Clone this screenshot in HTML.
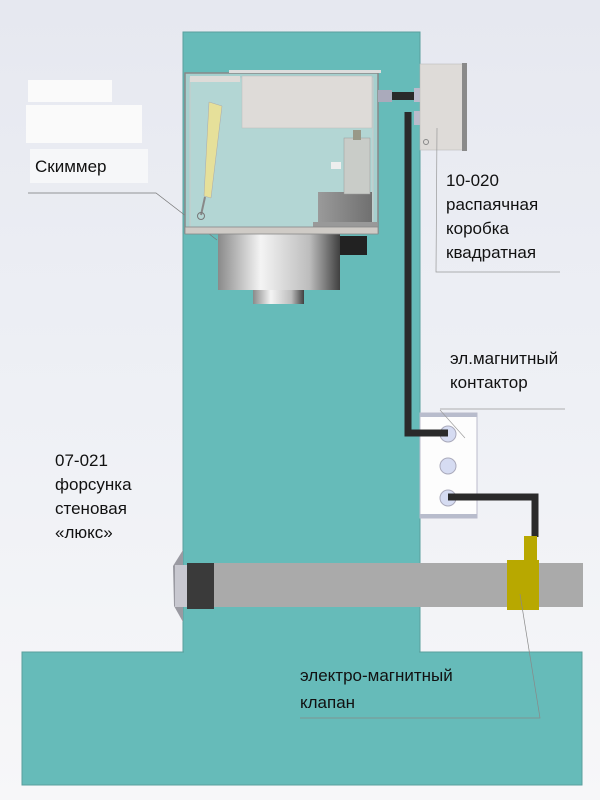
<!DOCTYPE html>
<html><head><meta charset="utf-8"><style>
html,body{margin:0;padding:0;}
body{width:600px;height:800px;overflow:hidden;background:linear-gradient(180deg,#e6e8f0 0%,#eef0f5 50%,#f7f7f9 100%);}
svg{display:block}
text{font-family:"Liberation Sans","DejaVu Sans",sans-serif;font-size:17px;fill:#111;}
</style></head><body>
<svg width="600" height="800" viewBox="0 0 600 800">
<defs>
<linearGradient id="cyl" x1="0" x2="1" y1="0" y2="0">
<stop offset="0" stop-color="#8a8a8a"/><stop offset="0.35" stop-color="#f4f4f4"/><stop offset="0.75" stop-color="#bdbdbd"/><stop offset="1" stop-color="#404040"/></linearGradient>
<linearGradient id="mot" x1="0" x2="1"><stop offset="0" stop-color="#9a9a9a"/><stop offset="1" stop-color="#707070"/></linearGradient>
</defs>
<rect x="183" y="32" width="237" height="620" fill="#66bbb9" stroke="#5a9f9d" stroke-width="1"/>
<rect x="22" y="652" width="560" height="133" fill="#66bbb9" stroke="#5a9f9d" stroke-width="1"/>
<rect x="184" y="640" width="235" height="14" fill="#66bbb9"/>
<rect x="28" y="80" width="84" height="22" fill="#fafafa"/>
<rect x="26" y="105" width="116" height="38" fill="#fafafa"/>
<rect x="30" y="149" width="118" height="34" fill="#f6f7f9"/>
<text x="35" y="172">Скиммер</text>
<polyline points="28,193 156,193 217,240" fill="none" stroke="#777" stroke-width="0.7"/>
<rect x="218" y="234" width="122" height="56" fill="url(#cyl)"/>
<rect x="253" y="290" width="51" height="14" fill="url(#cyl)"/>
<rect x="340" y="236" width="27" height="19" fill="#222"/>
<rect x="185" y="73" width="193" height="160" fill="#a6d0ce" stroke="#888" stroke-width="1.5"/>
<rect x="190" y="78" width="183" height="150" fill="#b3d6d4" stroke="#c9c9c9" stroke-width="1"/>
<rect x="229" y="70" width="152" height="3" fill="#ddd"/>
<rect x="242" y="76" width="130" height="52" fill="#dedbd8" stroke="#bbb" stroke-width="0.5"/>
<rect x="190" y="76" width="50" height="6" fill="#dedbd8"/>
<polygon points="209,102 222,106 211,198 204,196" fill="#e6e09a" stroke="#aaa" stroke-width="0.5"/>
<line x1="205" y1="197" x2="201" y2="215" stroke="#888" stroke-width="2"/>
<circle cx="201" cy="216" r="3.5" fill="none" stroke="#777"/>
<rect x="318" y="192" width="54" height="32" fill="url(#mot)"/>
<rect x="313" y="222" width="64" height="6" fill="#999"/>
<rect x="344" y="138" width="26" height="56" fill="#c9ccc8" stroke="#999" stroke-width="0.5"/>
<rect x="331" y="162" width="10" height="7" fill="#eee"/>
<rect x="353" y="130" width="8" height="10" fill="#998"/>
<rect x="185" y="227" width="193" height="7" fill="#cfcbc6" stroke="#888" stroke-width="0.8"/>
<rect x="378" y="90" width="14" height="12" fill="#aab" />
<rect x="392" y="92" width="24" height="8" fill="#2a2a2a"/>
<rect x="414" y="88" width="10" height="14" fill="#bbc"/>
<rect x="414" y="111" width="10" height="14" fill="#bbc"/>
<polyline points="408,112 408,433 448,433" fill="none" stroke="#2a2a2a" stroke-width="7"/>
<rect x="420" y="64" width="46" height="86" fill="#dedbd8" stroke="#bbb" stroke-width="0.6"/>
<rect x="462" y="63" width="5" height="88" fill="#8a8a8a"/>
<circle cx="426" cy="142" r="2.5" fill="none" stroke="#888"/>
<polyline points="437,128 436,272 560,272" fill="none" stroke="#999" stroke-width="0.7"/>
<text x="446" y="186">10-020</text>
<text x="446" y="210">распаячная</text>
<text x="446" y="234">коробка</text>
<text x="446" y="258">квадратная</text>
<text x="450" y="364">эл.магнитный</text>
<text x="450" y="388">контактор</text>
<line x1="440" y1="409" x2="565" y2="409" stroke="#999" stroke-width="0.7"/>
<rect x="420" y="413" width="57" height="105" fill="#fdfdfd" stroke="#bbc" stroke-width="1"/>
<rect x="420" y="413" width="57" height="4" fill="#b8bccc"/>
<rect x="420" y="514" width="57" height="4" fill="#b8bccc"/>
<line x1="440" y1="410" x2="465" y2="438" stroke="#999" stroke-width="0.6"/>
<circle cx="448" cy="434" r="8" fill="#d6dcf2" stroke="#aab"/>
<circle cx="448" cy="466" r="8" fill="#d6dcf2" stroke="#aab"/>
<circle cx="448" cy="498" r="8" fill="#d6dcf2" stroke="#aab"/>
<polyline points="408,433 448,433" fill="none" stroke="#2a2a2a" stroke-width="7"/>
<polyline points="448,497 535,497 535,537" fill="none" stroke="#2a2a2a" stroke-width="7"/>
<text x="55" y="466">07-021</text>
<text x="55" y="490">форсунка</text>
<text x="55" y="514">стеновая</text>
<text x="55" y="538">«люкс»</text>
<rect x="210" y="563" width="373" height="44" fill="#aaaaaa"/>
<polygon points="183,550 183,622 174,606 173,566" fill="#9a9aa2"/>
<rect x="175" y="565" width="12" height="42" fill="#c8c8d0"/>
<rect x="187" y="563" width="27" height="46" fill="#3a3a3a"/>
<rect x="524" y="536" width="13" height="24" fill="#b8a800"/>
<rect x="507" y="560" width="32" height="50" fill="#b8a800"/>
<polyline points="520,594 540,718 300,718" fill="none" stroke="#888" stroke-width="0.7"/>
<text x="300" y="681">электро-магнитный</text>
<text x="300" y="708">клапан</text>
</svg>
</body></html>
